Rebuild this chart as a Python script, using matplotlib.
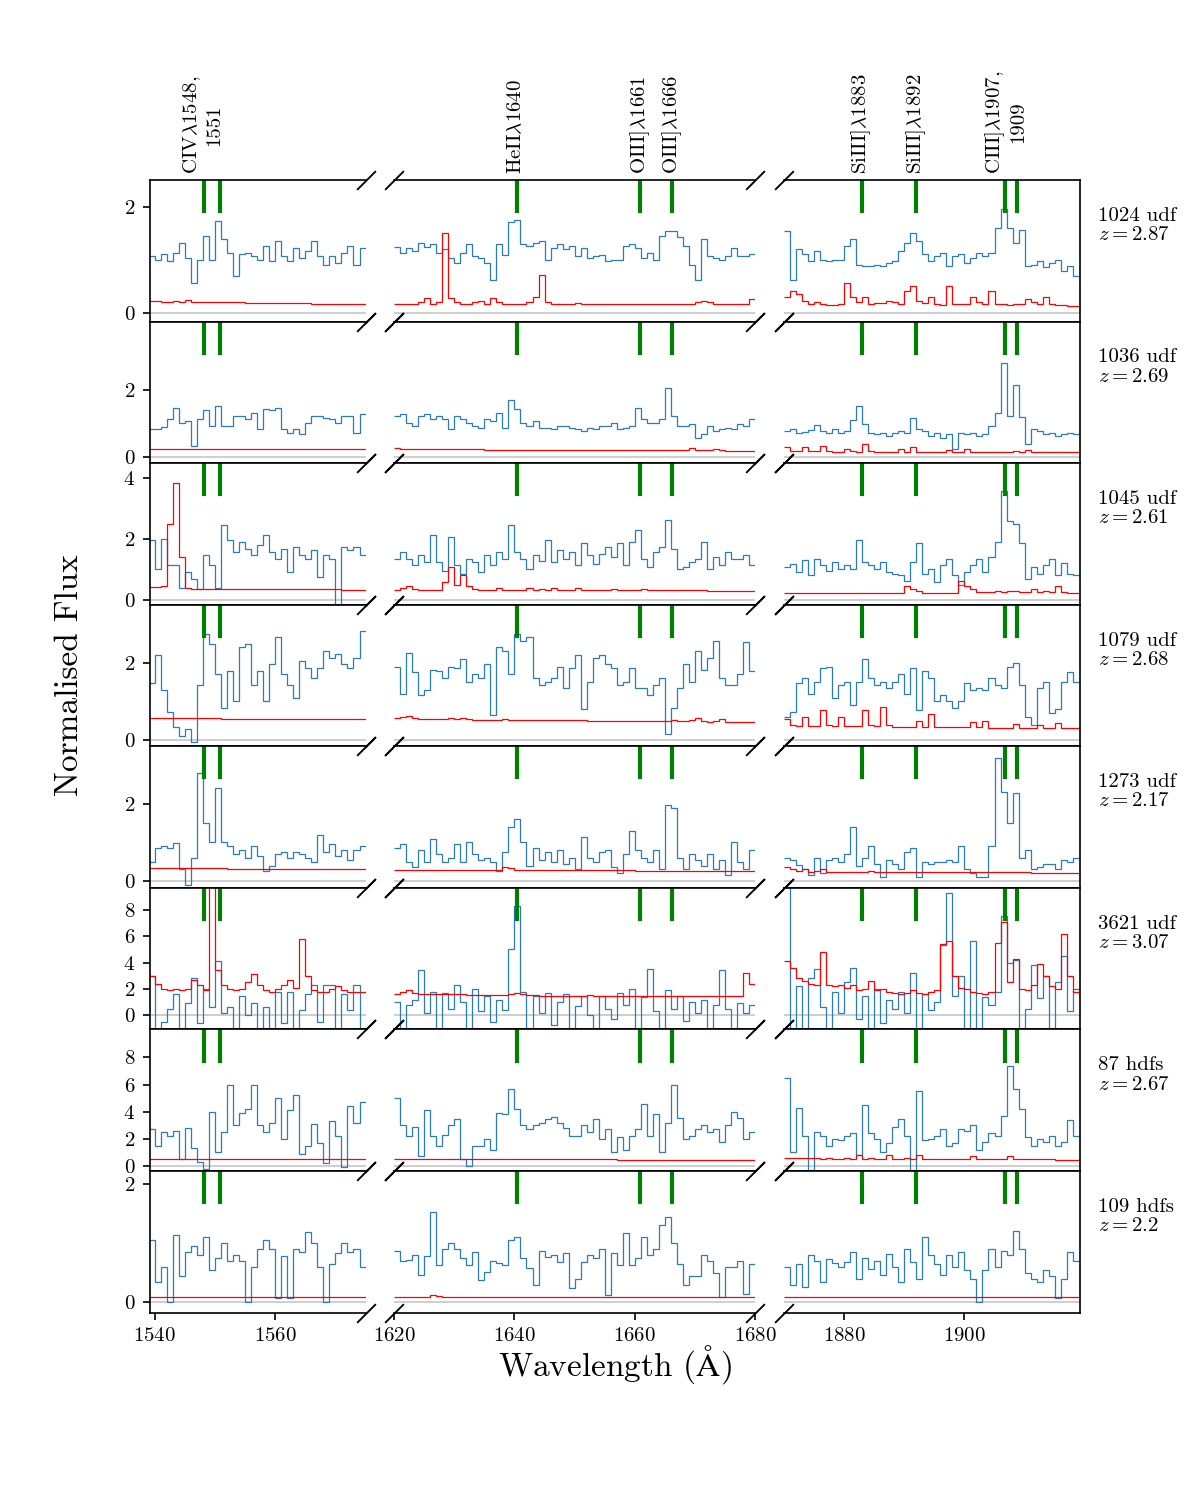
import numpy as np
import matplotlib.pyplot as plt

plt.rcParams['font.family'] = 'serif'
plt.rcParams['font.serif'] = ['cmr10']
plt.rcParams['mathtext.fontset'] = 'cm'
plt.rcParams['axes.formatter.use_mathtext'] = True

# objects (one row each)
names = ['1024 udf', '1036 udf', '1045 udf', '1079 udf', '1273 udf', '3621 udf', '87 hdfs', '109 hdfs']
redshifts = ['2.87', '2.69', '2.61', '2.68', '2.17', '3.07', '2.67', '2.2']
ylims = [(-0.17, 2.5), (-0.18, 4.06), (-0.16, 4.49), (-0.16, 3.5), (-0.18, 3.5),
         (-1.06, 9.66), (-0.37, 10.07), (-0.17, 2.22)]
yticks = [[0, 2], [0, 2], [0, 2, 4], [0, 2], [0, 2], [0, 2, 4, 6, 8], [0, 2, 4, 6, 8], [0, 2]]

# the three wavelength windows (rest frame, Angstrom); spectra binned at 1 A
win_lo = [1539.2, 1620.0, 1870.0]
win_hi = [1575.0, 1680.0, 1919.2]
bin_edge0 = [1539.0, 1620.0, 1870.0]
win_ticks = [[1540, 1560], [1620, 1640, 1660, 1680], [1880, 1900]]

line_waves = [1548.2, 1550.8, 1640.4, 1660.8, 1666.2, 1883.0, 1892.0, 1906.7, 1908.7]
label_waves = [1547.9, 1640.3, 1660.8, 1666.2, 1882.8, 1892.0, 1906.75]
label_texts = ['CIV$\\lambda$1548,\n1551', 'HeII$\\lambda$1640', 'OIII]$\\lambda$1661',
               'OIII]$\\lambda$1666', 'SiIII]$\\lambda$1883', 'SiIII]$\\lambda$1892',
               'CIII]$\\lambda$1907,\n1909']

# ---- 1024 udf ----
civ_1024 = [1.06, 1.0, 1.1, 0.97, 1.13, 1.32, 1.03, 0.55, 1.0, 1.45, 1.0, 1.73, 1.38, 1.13, 0.68, 1.1, 1.13, 1.06,
            1.0, 1.25, 0.97, 1.35, 1.06, 0.97, 1.22, 1.03, 1.16, 1.35, 1.06, 0.9, 1.06, 0.94, 1.13, 1.25, 0.9, 1.22]
civ_err_1024 = [0.22, 0.21, 0.2, 0.2, 0.22, 0.2, 0.23, 0.2, 0.19, 0.19, 0.19, 0.2, 0.19, 0.19, 0.19, 0.19, 0.18, 0.18,
                0.18, 0.18, 0.18, 0.18, 0.18, 0.18, 0.18, 0.18, 0.18, 0.17, 0.17, 0.17, 0.17, 0.17, 0.17, 0.17, 0.17, 0.17]
heii_1024 = [1.23, 1.12, 1.22, 1.16, 1.32, 1.23, 1.29, 1.13, 1.19, 1.03, 0.94, 1.13, 1.29, 1.06, 1.03, 0.94, 0.62, 1.29,
             1.09, 1.7, 1.75, 1.29, 1.26, 1.32, 1.35, 1.0, 1.22, 1.29, 1.19, 1.26, 1.06, 1.22, 1.03, 1.06, 1.09, 0.97,
             1.0, 1.0, 1.26, 1.29, 1.22, 1.03, 1.13, 1.0, 1.45, 1.54, 1.54, 1.42, 1.26, 0.9, 0.62, 1.38, 1.06, 1.03,
             1.0, 1.06, 1.22, 1.06, 1.06, 1.1]
heii_err_1024 = [0.17, 0.17, 0.17, 0.17, 0.2, 0.27, 0.17, 0.2, 1.5, 0.27, 0.2, 0.17, 0.17, 0.2, 0.22, 0.17, 0.27, 0.2,
                 0.17, 0.17, 0.17, 0.17, 0.2, 0.3, 0.7, 0.2, 0.17, 0.17, 0.17, 0.17, 0.18, 0.17, 0.17, 0.17, 0.17, 0.17,
                 0.17, 0.17, 0.17, 0.17, 0.17, 0.17, 0.17, 0.17, 0.17, 0.17, 0.17, 0.17, 0.17, 0.17, 0.2, 0.22, 0.2,
                 0.17, 0.17, 0.17, 0.17, 0.17, 0.17, 0.25]
ciii_1024 = [1.54, 0.62, 1.2, 1.1, 0.97, 1.16, 1.0, 0.97, 1.0, 1.0, 1.26, 1.38, 0.9, 0.87, 0.87, 0.9, 0.87, 0.93, 0.97,
             1.16, 1.32, 1.5, 1.35, 1.1, 0.97, 1.06, 1.13, 0.87, 1.06, 1.1, 0.93, 1.03, 1.13, 1.06, 1.13, 1.6, 1.96,
             1.6, 1.32, 1.55, 0.87, 0.9, 0.97, 0.85, 0.93, 1.0, 0.78, 0.87, 0.68]
ciii_err_1024 = [0.3, 0.4, 0.35, 0.22, 0.17, 0.2, 0.17, 0.15, 0.14, 0.17, 0.55, 0.3, 0.2, 0.3, 0.17, 0.18, 0.18, 0.22,
                 0.2, 0.17, 0.4, 0.5, 0.22, 0.18, 0.3, 0.17, 0.15, 0.5, 0.17, 0.16, 0.17, 0.3, 0.2, 0.16, 0.4, 0.17,
                 0.16, 0.15, 0.16, 0.16, 0.25, 0.2, 0.16, 0.3, 0.16, 0.15, 0.14, 0.13, 0.13]

# ---- 1036 udf ----
civ_1036 = [0.83, 0.83, 0.9, 1.13, 1.47, 1.03, 1.08, 0.34, 1.13, 1.4, 0.93, 1.54, 0.93, 0.93, 1.23, 1.23, 1.13, 1.33,
            0.83, 1.43, 1.4, 1.47, 0.83, 0.73, 0.83, 0.68, 1.03, 1.23, 1.23, 1.18, 1.13, 1.03, 1.23, 1.23, 0.73, 1.3]
civ_err_1036 = [0.24, 0.24, 0.24, 0.24, 0.24, 0.24, 0.24, 0.24, 0.24, 0.24, 0.24, 0.24, 0.24, 0.24, 0.24, 0.24, 0.24,
                0.24, 0.23, 0.23, 0.23, 0.23, 0.23, 0.23, 0.23, 0.23, 0.23, 0.23, 0.23, 0.23, 0.23, 0.23, 0.23, 0.23,
                0.23, 0.23]
heii_1036 = [1.23, 1.28, 1.03, 0.93, 1.23, 1.28, 1.13, 1.23, 1.13, 0.83, 1.23, 1.13, 1.03, 0.93, 0.88, 1.13, 1.08, 1.33,
             0.88, 1.72, 1.43, 1.03, 0.93, 1.08, 0.88, 0.88, 0.83, 0.93, 0.93, 0.88, 0.83, 0.78, 0.88, 0.83, 0.93, 0.93,
             1.03, 0.83, 0.88, 0.93, 1.47, 1.13, 1.03, 1.03, 1.13, 2.07, 1.23, 0.93, 0.93, 0.98, 0.58, 0.68, 0.93,
             0.78, 0.83, 0.88, 0.83, 0.98, 0.93, 1.13]
heii_err_1036 = [0.26, 0.24, 0.24, 0.24, 0.24, 0.24, 0.24, 0.23, 0.23, 0.23, 0.23, 0.23, 0.23, 0.23, 0.23, 0.22, 0.22,
                 0.22, 0.22, 0.22, 0.22, 0.22, 0.22, 0.22, 0.22, 0.21, 0.21, 0.21, 0.21, 0.21, 0.21, 0.21, 0.21, 0.21,
                 0.21, 0.21, 0.21, 0.2, 0.2, 0.2, 0.2, 0.2, 0.2, 0.2, 0.2, 0.2, 0.2, 0.2, 0.2, 0.27, 0.2, 0.2, 0.2,
                 0.25, 0.2, 0.19, 0.19, 0.19, 0.19, 0.19]
ciii_1036 = [0.78, 0.83, 0.73, 0.75, 0.8, 0.95, 0.78, 0.73, 0.83, 0.73, 0.78, 1.1, 1.54, 1.0, 0.73, 0.68, 0.73, 0.63,
             0.73, 0.78, 0.73, 1.18, 0.83, 0.78, 0.63, 0.73, 0.58, 0.68, 0.24, 0.73, 0.68, 0.73, 0.63, 0.68, 0.93, 1.33,
             2.81, 1.23, 2.17, 1.2, 0.39, 0.83, 0.78, 0.68, 0.73, 0.63, 0.68, 0.73, 0.68]
ciii_err_1036 = [0.29, 0.17, 0.17, 0.29, 0.17, 0.17, 0.34, 0.17, 0.16, 0.16, 0.25, 0.17, 0.16, 0.39, 0.17, 0.16, 0.16,
                 0.16, 0.16, 0.23, 0.16, 0.3, 0.16, 0.16, 0.16, 0.16, 0.16, 0.2, 0.16, 0.16, 0.23, 0.16, 0.16, 0.16,
                 0.16, 0.16, 0.16, 0.16, 0.18, 0.16, 0.2, 0.16, 0.15, 0.15, 0.15, 0.15, 0.15, 0.15, 0.15]

# ---- 1045 udf ----
civ_1045 = [1.96, 1.0, 2.0, 1.15, 1.13, 0.4, 0.9, 0.68, 0.35, 1.46, 1.13, 0.4, 2.45, 1.96, 1.57, 1.9, 1.68, 1.46, 1.79,
            2.12, 1.57, 1.35, 1.68, 0.9, 1.73, 1.46, 1.35, 1.62, 0.74, 1.46, 1.35, -0.5, 1.73, 1.62, 1.73, 1.46]
civ_err_1045 = [0.41, 0.41, 0.45, 2.5, 3.85, 1.4, 0.4, 0.37, 0.36, 0.36, 0.36, 0.36, 0.35, 0.35, 0.35, 0.35, 0.35, 0.35,
                0.35, 0.35, 0.35, 0.35, 0.35, 0.35, 0.34, 0.34, 0.34, 0.34, 0.34, 0.34, 0.34, 0.34, 0.33, 0.33, 0.33,
                0.33]
heii_1045 = [1.35, 1.57, 1.35, 1.13, 1.46, 1.24, 2.12, 1.24, 0.96, 2.07, 1.13, 0.85, 1.35, 1.24, 0.9, 1.46, 1.13, 1.57,
             1.35, 2.45, 1.57, 1.35, 1.02, 1.46, 1.29, 1.96, 1.24, 1.62, 1.35, 1.57, 1.13, 1.85, 1.46, 1.18, 1.51, 1.73,
             1.4, 1.85, 1.13, 1.9, 2.29, 1.35, 1.07, 1.57, 1.73, 2.62, 1.68, 1.02, 1.07, 1.24, 1.35, 1.9, 1.02, 1.4,
             1.13, 1.57, 1.35, 1.35, 1.46, 1.13]
heii_err_1045 = [0.33, 0.4, 0.45, 0.35, 0.33, 0.33, 0.33, 0.33, 0.6, 1.07, 0.5, 0.8, 0.45, 0.36, 0.33, 0.33, 0.33, 0.4,
                 0.33, 0.33, 0.33, 0.33, 0.4, 0.33, 0.36, 0.33, 0.4, 0.33, 0.33, 0.33, 0.38, 0.32, 0.32, 0.32, 0.32,
                 0.32, 0.35, 0.32, 0.32, 0.32, 0.32, 0.34, 0.31, 0.31, 0.31, 0.31, 0.31, 0.31, 0.31, 0.31, 0.31, 0.31,
                 0.3, 0.3, 0.3, 0.3, 0.3, 0.3, 0.3, 0.3]
ciii_1045 = [1.07, 1.18, 0.9, 1.3, 0.8, 1.35, 1.13, 0.96, 1.24, 1.02, 1.13, 1.0, 1.96, 1.24, 1.13, 1.02, 1.24, 0.9,
             0.85, 0.8, 0.63, 1.24, 1.85, 0.85, 1.02, 0.57, 1.13, 1.35, 0.8, 0.5, 0.9, 1.13, 1.35, 0.9, 1.4, 1.9, 3.56,
             2.6, 2.5, 1.85, 0.67, 1.07, 0.85, 1.13, 1.35, 0.8, 1.2, 0.85, 0.8]
ciii_err_1045 = [0.22, 0.22, 0.22, 0.22, 0.22, 0.22, 0.22, 0.22, 0.22, 0.22, 0.22, 0.22, 0.22, 0.22, 0.22, 0.22, 0.22,
                 0.22, 0.22, 0.22, 0.46, 0.35, 0.3, 0.24, 0.24, 0.24, 0.24, 0.24, 0.24, 0.63, 0.46, 0.35, 0.26, 0.26,
                 0.26, 0.3, 0.25, 0.3, 0.3, 0.25, 0.25, 0.35, 0.26, 0.3, 0.25, 0.45, 0.25, 0.22, 0.22]

# ---- 1079 udf ----
civ_1079 = [1.47, 2.2, 1.3, 0.73, 0.33, 0.11, 0.29, -0.05, 1.43, 2.75, 2.48, 1.7, 0.82, 1.78, 1.0, 2.4, 2.48, 1.43,
            1.78, 1.0, 1.96, 2.66, 1.7, 1.43, 1.08, 2.04, 1.87, 1.6, 1.87, 2.3, 2.13, 2.22, 1.96, 1.87, 2.13, 2.83]
civ_err_1079 = [0.56, 0.56, 0.56, 0.56, 0.56, 0.56, 0.56, 0.56, 0.56, 0.56, 0.56, 0.56, 0.55, 0.55, 0.55, 0.55, 0.55,
                0.55, 0.55, 0.55, 0.55, 0.55, 0.55, 0.55, 0.54, 0.54, 0.54, 0.54, 0.54, 0.54, 0.54, 0.54, 0.54, 0.54,
                0.54, 0.54]
heii_1079 = [1.9, 1.2, 2.26, 1.75, 1.17, 1.3, 1.8, 1.78, 1.6, 1.9, 1.87, 2.1, 1.5, 1.7, 1.6, 1.96, 0.64, 2.4, 2.3, 1.7,
             2.75, 2.57, 2.66, 1.6, 1.43, 1.5, 1.6, 1.9, 1.34, 1.87, 2.2, 0.8, 1.5, 2.13, 2.2, 1.96, 1.87, 1.43, 1.5,
             1.87, 1.34, 1.34, 1.17, 1.43, 1.6, 0.16, 0.82, 1.34, 1.96, 1.5, 2.3, 1.8, 2.13, 2.57, 1.6, 1.43, 1.43,
             1.7, 2.53, 1.78]
heii_err_1079 = [0.56, 0.6, 0.62, 0.56, 0.54, 0.54, 0.54, 0.54, 0.54, 0.57, 0.54, 0.56, 0.54, 0.53, 0.53, 0.53, 0.53,
                 0.53, 0.55, 0.52, 0.52, 0.52, 0.52, 0.52, 0.52, 0.51, 0.51, 0.51, 0.51, 0.51, 0.51, 0.51, 0.5, 0.5,
                 0.5, 0.5, 0.5, 0.5, 0.5, 0.5, 0.5, 0.48, 0.48, 0.48, 0.48, 0.5, 0.52, 0.48, 0.48, 0.52, 0.58, 0.48,
                 0.47, 0.5, 0.55, 0.47, 0.47, 0.47, 0.46, 0.46]
ciii_1079 = [0.6, 0.73, 1.47, 1.6, 1.2, 1.5, 1.87, 1.9, 1.1, 1.43, 1.5, 0.9, 1.5, 2.1, 1.6, 1.43, 1.5, 1.35, 1.5, 1.7,
             1.2, 1.87, 0.77, 1.78, 1.6, 1.0, 1.17, 1.0, 0.82, 1.0, 1.47, 1.3, 1.35, 1.3, 1.6, 1.43, 1.35, 1.9, 2.0,
             1.43, 0.6, 0.38, 1.35, 1.5, 0.7, 0.8, 1.5, 1.75, 1.5]
ciii_err_1079 = [0.55, 0.4, 0.36, 0.6, 0.36, 0.36, 0.77, 0.38, 0.36, 0.6, 0.36, 0.36, 0.36, 0.77, 0.38, 0.36, 0.86,
                 0.38, 0.35, 0.35, 0.35, 0.35, 0.5, 0.35, 0.68, 0.35, 0.33, 0.33, 0.33, 0.33, 0.33, 0.47, 0.33, 0.5,
                 0.32, 0.32, 0.32, 0.32, 0.42, 0.32, 0.32, 0.32, 0.4, 0.32, 0.3, 0.45, 0.3, 0.3, 0.3]

# ---- 1273 udf ----
civ_1273 = [0.5, 0.85, 0.9, 0.85, 0.98, 0.3, -0.1, 0.6, 2.8, 1.5, 1.0, 2.42, 1.0, 0.9, 0.7, 0.8, 0.6, 0.9, 0.65, 0.25,
            0.4, 0.7, 0.75, 0.6, 0.75, 0.7, 0.6, 0.5, 1.2, 0.75, 0.95, 0.65, 0.8, 0.55, 0.8, 0.9]
civ_err_1273 = [0.34, 0.34, 0.34, 0.34, 0.34, 0.33, 0.33, 0.33, 0.33, 0.33, 0.33, 0.33, 0.33, 0.32, 0.32, 0.32, 0.32,
                0.32, 0.32, 0.32, 0.32, 0.32, 0.31, 0.31, 0.31, 0.31, 0.31, 0.31, 0.31, 0.31, 0.31, 0.31, 0.3, 0.3,
                0.3, 0.3]
heii_1273 = [0.85, 0.95, 0.5, 0.35, 0.8, 0.5, 1.1, 0.7, 0.5, 0.6, 0.95, 0.5, 1.0, 0.7, 0.55, 0.6, 0.5, 0.25, 0.75, 1.4,
             1.6, 1.0, 0.4, 0.85, 0.55, 0.75, 0.5, 0.8, 0.45, 0.6, 0.3, 1.15, 0.6, 0.5, 0.75, 0.8, 0.35, 0.2, 0.7, 1.3,
             0.8, 0.6, 0.5, 0.8, 0.3, 1.98, 1.9, 0.6, 0.3, 0.7, 0.55, 0.4, 0.7, 0.3, 0.55, 0.15, 1.0, 0.5, 0.3, 0.8]
heii_err_1273 = [0.28, 0.28, 0.28, 0.28, 0.28, 0.28, 0.28, 0.28, 0.28, 0.28, 0.28, 0.28, 0.28, 0.28, 0.28, 0.28, 0.28,
                 0.28, 0.37, 0.33, 0.28, 0.28, 0.28, 0.28, 0.28, 0.28, 0.28, 0.28, 0.28, 0.28, 0.28, 0.28, 0.28,
                 0.28, 0.29, 0.28, 0.28, 0.28, 0.28, 0.28, 0.27, 0.27, 0.27, 0.27, 0.27, 0.27, 0.27, 0.27, 0.27,
                 0.27, 0.27, 0.27, 0.27, 0.27, 0.27, 0.27, 0.27, 0.27, 0.27, 0.27]
ciii_1273 = [0.6, 0.55, 0.42, 0.3, 0.15, 0.6, 0.2, 0.55, 0.6, 0.5, 0.7, 1.41, 0.4, 0.6, 0.9, 0.45, 0.1, 0.55, 0.45,
             0.3, 0.75, 0.85, 0.1, 0.5, 0.45, 0.5, 0.5, 0.55, 0.5, 0.9, 0.3, 0.2, 0.1, 0.1, 0.9, 3.2, 2.3, 1.5, 2.29,
             0.6, 0.8, 0.3, 0.35, 0.45, 0.45, 0.3, 0.55, 0.5, 0.6]
ciii_err_1273 = [0.35, 0.3, 0.25, 0.3, 0.24, 0.25, 0.32, 0.24, 0.24, 0.24, 0.24, 0.24, 0.24, 0.24, 0.26, 0.23, 0.23,
                 0.23, 0.23, 0.23, 0.23, 0.23, 0.23, 0.23, 0.23, 0.22, 0.22, 0.22, 0.22, 0.22, 0.22, 0.22, 0.22,
                 0.22, 0.22, 0.22, 0.22, 0.22, 0.22, 0.22, 0.22, 0.21, 0.21, 0.21, 0.21, 0.21, 0.21, 0.21, 0.21]

# ---- 3621 udf ----
civ_3621 = [3.0, -1.5, -0.5, 0.5, 1.6, -1.5, 0.9, 2.8, -0.6, 2.0, 0.6, 4.1, 0.2, 0.6, -1.5, 1.5, 0.0, 0.9, -1.5, 0.6,
            -1.5, 1.8, -0.6, 1.8, -1.5, 0.4, 1.6, 2.3, -0.5, 2.3, 2.3, -1.5, 1.6, 0.4, 2.3, -1.5]
civ_err_3621 = [3.0, 2.4, 2.0, 1.9, 2.0, 1.9, 2.0, 2.7, 2.3, 1.9, 10.5, 3.4, 2.3, 2.0, 1.9, 2.0, 2.5, 3.1, 2.3, 1.9,
                1.8, 2.0, 2.3, 2.7, 2.1, 5.8, 3.0, 1.9, 1.8, 1.8, 2.0, 2.2, 1.9, 1.8, 1.8, 1.75]
heii_3621 = [1.0, -1.5, 0.8, 1.2, 3.4, 0.2, 1.8, -1.5, 1.7, 0.5, 2.3, 1.0, -1.5, 2.0, 0.3, 1.5, -0.5, 1.2, 0.4, 5.0,
             8.3, 1.8, -1.5, 1.5, 0.2, 1.7, -0.7, 1.0, 1.6, -1.5, 0.7, 1.5, 0.0, -1.5, 1.5, 0.5, -0.3, 1.7, 0.8, 2.0,
             -1.5, 1.4, 3.5, 0.3, -1.5, 1.9, 0.5, 1.5, -0.4, 1.0, 0.2, 1.2, -1.5, 0.8, 3.4, 0.5, -1.5, 0.9, 0.2, 0.8]
heii_err_3621 = [1.6, 1.75, 1.9, 1.7, 1.6, 1.6, 1.6, 1.6, 1.6, 1.6, 1.6, 1.6, 1.55, 1.55, 1.55, 1.55, 1.55, 1.55, 1.55,
                 1.65, 1.7, 1.6, 1.55, 1.55, 1.5, 1.5, 1.5, 1.5, 1.5, 1.5, 1.5, 1.5, 1.55, 1.5, 1.5, 1.5, 1.5, 1.5,
                 1.5, 1.5, 1.5, 1.5, 1.5, 1.5, 1.5, 1.45, 1.45, 1.45, 1.5, 1.45, 1.45, 1.45, 1.45, 1.45, 1.45, 1.45,
                 1.45, 1.45, 3.2, 2.4]
ciii_3621 = [9.8, -1.5, 2.2, -1.5, 2.8, 3.5, 0.6, -1.5, 1.8, 0.2, 2.5, 3.6, -0.3, 1.5, -1.5, 2.0, -0.6, 1.2, 0.5, 1.8,
             0.2, 3.2, -1.5, 1.6, 0.4, 1.0, 5.3, 9.3, 1.5, 3.0, -1.5, 5.6, -1.5, 1.4, 0.8, 1.8, 7.5, 4.0, 4.2, -1.5,
             0.5, 3.8, 1.3, 3.0, -1.5, 2.5, 4.5, 0.3, 2.0]
ciii_err_3621 = [4.1, 3.6, 2.85, 2.6, 2.35, 2.3, 4.8, 2.3, 2.2, 2.3, 2.1, 2.3, 1.9, 2.0, 2.6, 1.9, 2.0, 1.8, 1.7, 1.6,
                 1.7, 1.9, 1.7, 1.6, 1.8, 1.9, 5.4, 5.6, 3.0, 2.1, 2.0, 1.8, 1.7, 1.6, 1.8, 5.5, 7.1, 2.5, 4.3, 2.0,
                 1.9, 2.3, 3.9, 3.0, 2.2, 2.0, 6.2, 3.0, 1.8]

# ---- 87 hdfs ----
civ_87 = [2.7, 1.5, 2.5, 2.2, 2.6, 0.5, 2.8, 1.3, 0.3, -0.2, 4.0, 1.0, 2.5, 6.0, 3.0, 3.9, 4.2, 6.0, 3.0, 2.5, 3.2,
          5.0, 2.0, 4.1, 5.2, 0.9, 1.5, 3.1, 1.7, 0.2, 3.3, 2.2, -0.1, 4.4, 3.2, 4.7]
civ_err_87 = [0.5, 0.5, 0.5, 0.5, 0.5, 0.5, 0.5, 0.5, 0.5, 0.5, 0.5, 0.5, 0.5, 0.5, 0.5, 0.5, 0.5, 0.5, 0.5, 0.5, 0.5,
              0.5, 0.5, 0.5, 0.5, 0.5, 0.5, 0.5, 0.5, 0.5, 0.5, 0.5, 0.5, 0.5, 0.5, 0.5]
heii_87 = [5.0, 3.0, 2.2, 2.9, 0.74, 4.1, 2.2, 1.5, 2.3, 3.0, 3.45, 0.5, 0.0, 1.5, 1.5, 2.0, 1.2, 3.9, 3.8, 5.7, 4.2,
           3.0, 2.7, 3.0, 3.2, 3.45, 3.6, 3.2, 2.8, 2.2, 2.2, 3.0, 2.5, 3.45, 2.0, 2.7, 1.0, 2.1, 1.2, 2.2, 2.7, 4.55,
           2.2, 3.8, 1.0, 3.2, 6.0, 3.5, 2.0, 2.2, 2.7, 3.0, 2.5, 2.7, 1.8, 3.0, 4.0, 3.5, 2.0, 2.5]
heii_err_87 = [0.5, 0.5, 0.52, 0.5, 0.5, 0.5, 0.5, 0.5, 0.5, 0.5, 0.5, 0.5, 0.5, 0.5, 0.5, 0.5, 0.5, 0.5, 0.5, 0.5,
               0.5, 0.5, 0.5, 0.48, 0.48, 0.48, 0.48, 0.48, 0.48, 0.48, 0.48, 0.48, 0.48, 0.48, 0.48, 0.48, 0.48,
               0.47, 0.47, 0.47, 0.47, 0.47, 0.47, 0.47, 0.47, 0.47, 0.47, 0.46, 0.46, 0.46, 0.46, 0.46, 0.46, 0.46,
               0.46, 0.45, 0.45, 0.45, 0.45, 0.45]
ciii_87 = [6.5, 1.0, 4.3, 2.2, -0.3, 2.5, 2.2, 1.5, 2.0, 1.9, 2.2, 2.4, 0.8, 4.5, 2.4, 2.0, 1.0, 1.7, 2.9, 3.45, 2.2,
           -0.3, 5.5, 1.9, 2.0, 2.2, 2.7, 1.5, 1.7, 2.7, 2.6, 3.0, 1.2, 1.8, 2.4, 2.2, 3.7, 7.4, 5.7, 4.2, 2.1, 1.5,
           2.0, 1.8, 2.2, 1.5, 1.8, 3.4, 2.2]
ciii_err_87 = [0.55, 0.6, 0.55, 0.55, 0.6, 0.55, 0.5, 0.55, 0.5, 0.5, 0.55, 0.5, 0.8, 0.5, 0.55, 0.5, 0.5, 0.8, 0.5,
               0.5, 0.6, 0.5, 0.8, 0.5, 0.5, 0.5, 0.5, 0.5, 0.5, 0.5, 0.5, 0.7, 0.5, 0.5, 0.5, 0.5, 0.5, 0.7, 0.5,
               0.5, 0.5, 0.5, 0.5, 0.5, 0.5, 0.45, 0.45, 0.45, 0.45]

# ---- 109 hdfs ----
civ_109 = [1.05, 0.35, 0.6, 0.0, 1.14, 0.45, 0.85, 0.95, 0.8, 1.11, 0.55, 0.75, 1.0, 0.7, 0.8, 0.7, 0.0, 0.6, 0.9,
           1.05, 0.9, 0.07, 0.78, 0.07, 0.9, 0.85, 1.19, 1.0, 0.6, 0.0, 0.65, 0.83, 1.0, 0.85, 0.9, 0.6]
civ_err_109 = [0.1, 0.1, 0.1, 0.1, 0.1, 0.1, 0.1, 0.1, 0.1, 0.1, 0.1, 0.1, 0.1, 0.1, 0.1, 0.1, 0.1, 0.1, 0.1, 0.1,
               0.1, 0.1, 0.1, 0.1, 0.1, 0.1, 0.1, 0.1, 0.1, 0.1, 0.1, 0.1, 0.1, 0.1, 0.1, 0.1]
heii_109 = [0.86, 0.7, 0.72, 0.8, 0.46, 0.78, 1.53, 0.63, 0.9, 1.0, 0.9, 0.75, 0.63, 0.85, 0.38, 0.52, 0.7, 0.66, 0.63,
            1.06, 1.1, 0.75, 0.58, 0.3, 0.86, 0.77, 0.8, 0.69, 0.83, 0.24, 0.4, 0.69, 0.8, 0.75, 0.9, 0.12, 0.83, 0.63,
            1.17, 0.63, 0.75, 1.1, 0.8, 0.9, 1.3, 1.45, 1.0, 0.65, 0.3, 0.45, 0.45, 0.8, 0.7, 0.5, 0.1, 0.6, 0.6, 0.7,
            0.15, 0.65]
heii_err_109 = [0.1, 0.1, 0.1, 0.1, 0.1, 0.1, 0.12, 0.11, 0.1, 0.1, 0.1, 0.1, 0.1, 0.1, 0.1, 0.1, 0.1, 0.1, 0.1, 0.1,
                0.1, 0.1, 0.1, 0.1, 0.1, 0.1, 0.1, 0.1, 0.1, 0.1, 0.1, 0.1, 0.1, 0.1, 0.1, 0.1, 0.1, 0.1, 0.1, 0.1,
                0.1, 0.1, 0.1, 0.1, 0.1, 0.1, 0.1, 0.1, 0.1, 0.1, 0.1, 0.1, 0.1, 0.1, 0.1, 0.1, 0.1, 0.1, 0.1, 0.1]
ciii_109 = [0.6, 0.3, 0.65, 0.26, 0.8, 0.7, 0.35, 0.73, 0.66, 0.6, 0.68, 0.85, 0.4, 0.75, 0.57, 0.7, 0.46, 0.82, 0.6,
            0.35, 0.9, 0.68, 0.4, 1.1, 0.8, 0.65, 0.46, 0.8, 0.6, 0.85, 0.55, 0.4, 0.0, 0.55, 0.9, 0.6, 0.86, 0.8, 1.2,
            0.9, 0.5, 0.4, 0.35, 0.55, 0.45, 0.07, 0.4, 0.85, 0.7]
ciii_err_109 = [0.09, 0.09, 0.09, 0.09, 0.09, 0.09, 0.09, 0.09, 0.09, 0.09, 0.09, 0.09, 0.09, 0.09, 0.09, 0.09, 0.09,
                0.09, 0.09, 0.09, 0.09, 0.09, 0.09, 0.09, 0.09, 0.09, 0.09, 0.09, 0.09, 0.09, 0.09, 0.09, 0.09, 0.09,
                0.09, 0.09, 0.09, 0.09, 0.09, 0.09, 0.09, 0.09, 0.09, 0.09, 0.09, 0.09, 0.09, 0.09, 0.09]

fluxes = [(civ_1024, heii_1024, ciii_1024), (civ_1036, heii_1036, ciii_1036), (civ_1045, heii_1045, ciii_1045),
          (civ_1079, heii_1079, ciii_1079), (civ_1273, heii_1273, ciii_1273), (civ_3621, heii_3621, ciii_3621),
          (civ_87, heii_87, ciii_87), (civ_109, heii_109, ciii_109)]
errors = [(civ_err_1024, heii_err_1024, ciii_err_1024), (civ_err_1036, heii_err_1036, ciii_err_1036),
          (civ_err_1045, heii_err_1045, ciii_err_1045), (civ_err_1079, heii_err_1079, ciii_err_1079),
          (civ_err_1273, heii_err_1273, ciii_err_1273), (civ_err_3621, heii_err_3621, ciii_err_3621),
          (civ_err_87, heii_err_87, ciii_err_87), (civ_err_109, heii_err_109, ciii_err_109)]

fig, axes = plt.subplots(8, 3, figsize=(8, 10), dpi=150,
                         gridspec_kw=dict(width_ratios=[35.8, 60, 49.2], hspace=0, wspace=0.098))
fig.subplots_adjust(left=0.125, right=0.9, top=0.88, bottom=0.125)

brk = dict(marker=[(-1, -1), (1, 1)], markersize=9, linestyle='none', color='k',
           mec='k', mew=0.9, clip_on=False)

nrow = len(names)
for r in range(nrow):
    for c in range(3):
        ax = axes[r, c]
        fl = np.array(fluxes[r][c])
        er = np.array(errors[r][c])
        ax.axhline(0, color='0.8', lw=0.9, zorder=0)
        ax.stairs(fl, bin_edge0[c] + np.arange(len(fl) + 1), baseline=None, color='#2b7bba', lw=0.6)
        ax.stairs(er, bin_edge0[c] + np.arange(len(er) + 1), baseline=None, color='red', lw=0.6)
        for lw_ in line_waves:
            if win_lo[c] < lw_ < win_hi[c]:
                ax.axvline(lw_, ymin=0.78, ymax=1.0, color='green', lw=2)
        ax.set_xlim(win_lo[c], win_hi[c])
        ax.set_ylim(*ylims[r])

        if c == 0:
            ax.spines['right'].set_visible(False)
            ax.set_yticks(yticks[r])
            ax.plot([1, 1], [0, 1], transform=ax.transAxes, **brk)
        elif c == 1:
            ax.spines['left'].set_visible(False)
            ax.spines['right'].set_visible(False)
            ax.tick_params(left=False, labelleft=False)
            ax.plot([0, 0, 1, 1], [0, 1, 0, 1], transform=ax.transAxes, **brk)
        else:
            ax.spines['left'].set_visible(False)
            ax.tick_params(left=False, labelleft=False)
            ax.plot([0, 0], [0, 1], transform=ax.transAxes, **brk)
            ax.text(1.06, 0.81, names[r] + '\n$z = ' + redshifts[r] + '$', transform=ax.transAxes,
                    ha='left', va='top', fontsize=10, linespacing=1.1)

        if r == nrow - 1:
            ax.set_xticks(win_ticks[c])
        else:
            ax.tick_params(bottom=False, labelbottom=False)
        ax.tick_params(labelsize=10)

        if r == 0:
            for xw, txt in zip(label_waves, label_texts):
                if win_lo[c] < xw < win_hi[c]:
                    ax.text(xw, 1.04, txt, transform=ax.get_xaxis_transform(), rotation=90,
                            ha='center', va='bottom', multialignment='center', fontsize=10)

fig.text(0.058, 0.55, 'Normalised Flux', rotation=90, ha='center', va='center', fontsize=16)
fig.text(0.512, 0.1045, 'Wavelength ($\\mathrm{\\AA}$)', ha='center', va='top', fontsize=16)

fig.savefig('out.png', dpi=150)
